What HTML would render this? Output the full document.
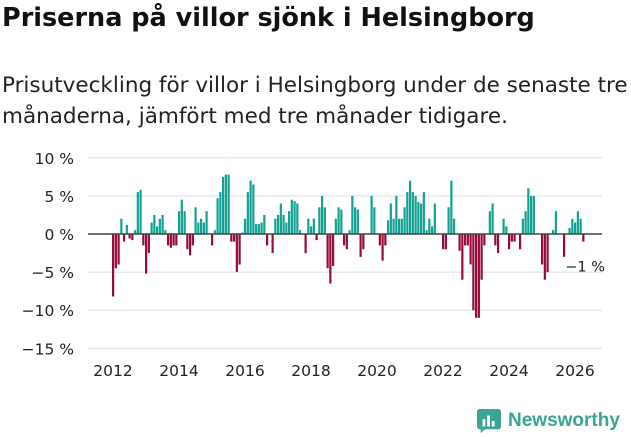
<!DOCTYPE html>
<html><head><meta charset="utf-8"><style>
body{margin:0;width:631px;height:439px;background:#fff;font-family:"DejaVu Sans","Liberation Sans",sans-serif;color:#111;overflow:hidden;position:relative}
#t{position:absolute;left:2px;top:3px;font-size:25.5px;font-weight:bold;margin:0;white-space:nowrap}
#s{position:absolute;left:2px;top:70px;font-size:21.5px;line-height:31px;color:#222;margin:0;white-space:nowrap}
svg{position:absolute;left:0;top:0}
</style></head><body>
<h1 id="t">Priserna på villor sjönk i Helsingborg</h1>
<p id="s">Prisutveckling för villor i Helsingborg under de senaste tre<br>månaderna, jämfört med tre månader tidigare.</p>
<svg id="c" width="631" height="439"></svg>
<script>
const yTicks=[10,5,0,-5,-10,-15];
const yTickLabels=["10 %","5 %","0 %","−5 %","−10 %","−15 %"];
const xTicks=[2012,2014,2016,2018,2020,2022,2024,2026];
const startYear=2012;
const values=[
-8.2,-4.5,-4,2,-1,1.2,-0.6,-0.8,0.5,5.5,5.8,-1.5,
-5.2,-2.5,1.5,2.5,1,2,2.5,0.5,-1.5,-1.8,-1.5,-1.5,
3,4.5,3,-2,-2.8,-1.5,3.5,1.5,2,1.5,3,0,
-1.5,0.5,4.7,5.5,7.5,7.8,7.8,-1,-1,-5,-4,0.2,
2,5.5,7,6.5,1.3,1.3,1.5,2.5,-1.5,0,-2.5,2,
2.5,4,2.5,1.5,3,4.5,4.3,4,0.5,0,-2.5,2,
1,2,-0.8,3.5,5,3.5,-4.5,-6.5,-4.2,2,3.5,3.2,
-1.5,-2,0.5,5,3.5,3.2,-3,-2,0,0,5,3.5,
0,-1.5,-3.5,-1.5,1.8,4,2,5,2,2,3.5,5.5,
7,5.5,5,4.2,4,5.5,0.5,2,1,4,0,0,
-2,-2,3.5,7,2,0,-2.2,-6,-1.5,-1.5,-4,-10,
-11,-11,-6,-1.5,0,3,4,-1.5,-2.5,0,2,1,
-2,-1,-1,0,-2,2,3,6,5,5,0,0,
-4,-6,-5,0,0.5,3,0,0,-3,0,0.8,2,
1.5,3,2,-1];
const lastLabel="−1 %";
const NS="http://www.w3.org/2000/svg";
const svg=document.getElementById('c');
const y=v=>234-v*7.62;
const x=m=>113+m*(33/12);
function mk(tag,a){const e=document.createElementNS(NS,tag);for(const k in a)e.setAttribute(k,a[k]);svg.appendChild(e);return e;}
yTicks.forEach((v,i)=>{
 const g=mk('line',{x1:88,x2:602,y1:y(v),y2:y(v),stroke:'#ddd','stroke-width':1});
 
 
 const t=mk('text',{x:74,y:y(v)+6,'text-anchor':'end','font-size':15.5,fill:'#222'});
 t.textContent=yTickLabels[i];
 
 
});
xTicks.forEach(yr=>{
 const t=mk('text',{x:x((yr-startYear)*12),y:376,'text-anchor':'middle','font-size':15.5,fill:'#222'});
 t.textContent=yr;
 
 
});
values.forEach((v,i)=>{
 const r=mk('rect',{x:x(i)-1,width:2.2,y:v>=0?y(v):y(0),height:Math.abs(y(v)-y(0)),fill:v>=0?'#12a192':'#960a3e'});
 
 
});
const z=mk('line',{x1:88,x2:602,y1:y(0),y2:y(0),stroke:'#444','stroke-width':1.5});


const ll=mk('text',{x:x(values.length-1)-18,y:y(values[values.length-1])+30,'font-size':14.5,fill:'#222'});
ll.textContent=lastLabel;


</script>
<div style="position:absolute;left:477px;top:408px;display:flex;align-items:center;gap:7px">
 <svg width="24" height="26" style="position:static" viewBox="0 0 26 26"><rect width="26" height="22" rx="3" fill="#3aa592"/><path d="M4 22 L4 26 L9 22Z" fill="#3aa592"/><rect x="6" y="11" width="3" height="8" fill="#fff"/><rect x="11" y="7" width="3" height="12" fill="#fff"/><rect x="16" y="13" width="3" height="6" fill="#fff"/></svg>
 <span style="font-size:19px;font-weight:bold;color:#3aa592;font-family:'Liberation Sans',sans-serif">Newsworthy</span>
</div>
</body></html>
